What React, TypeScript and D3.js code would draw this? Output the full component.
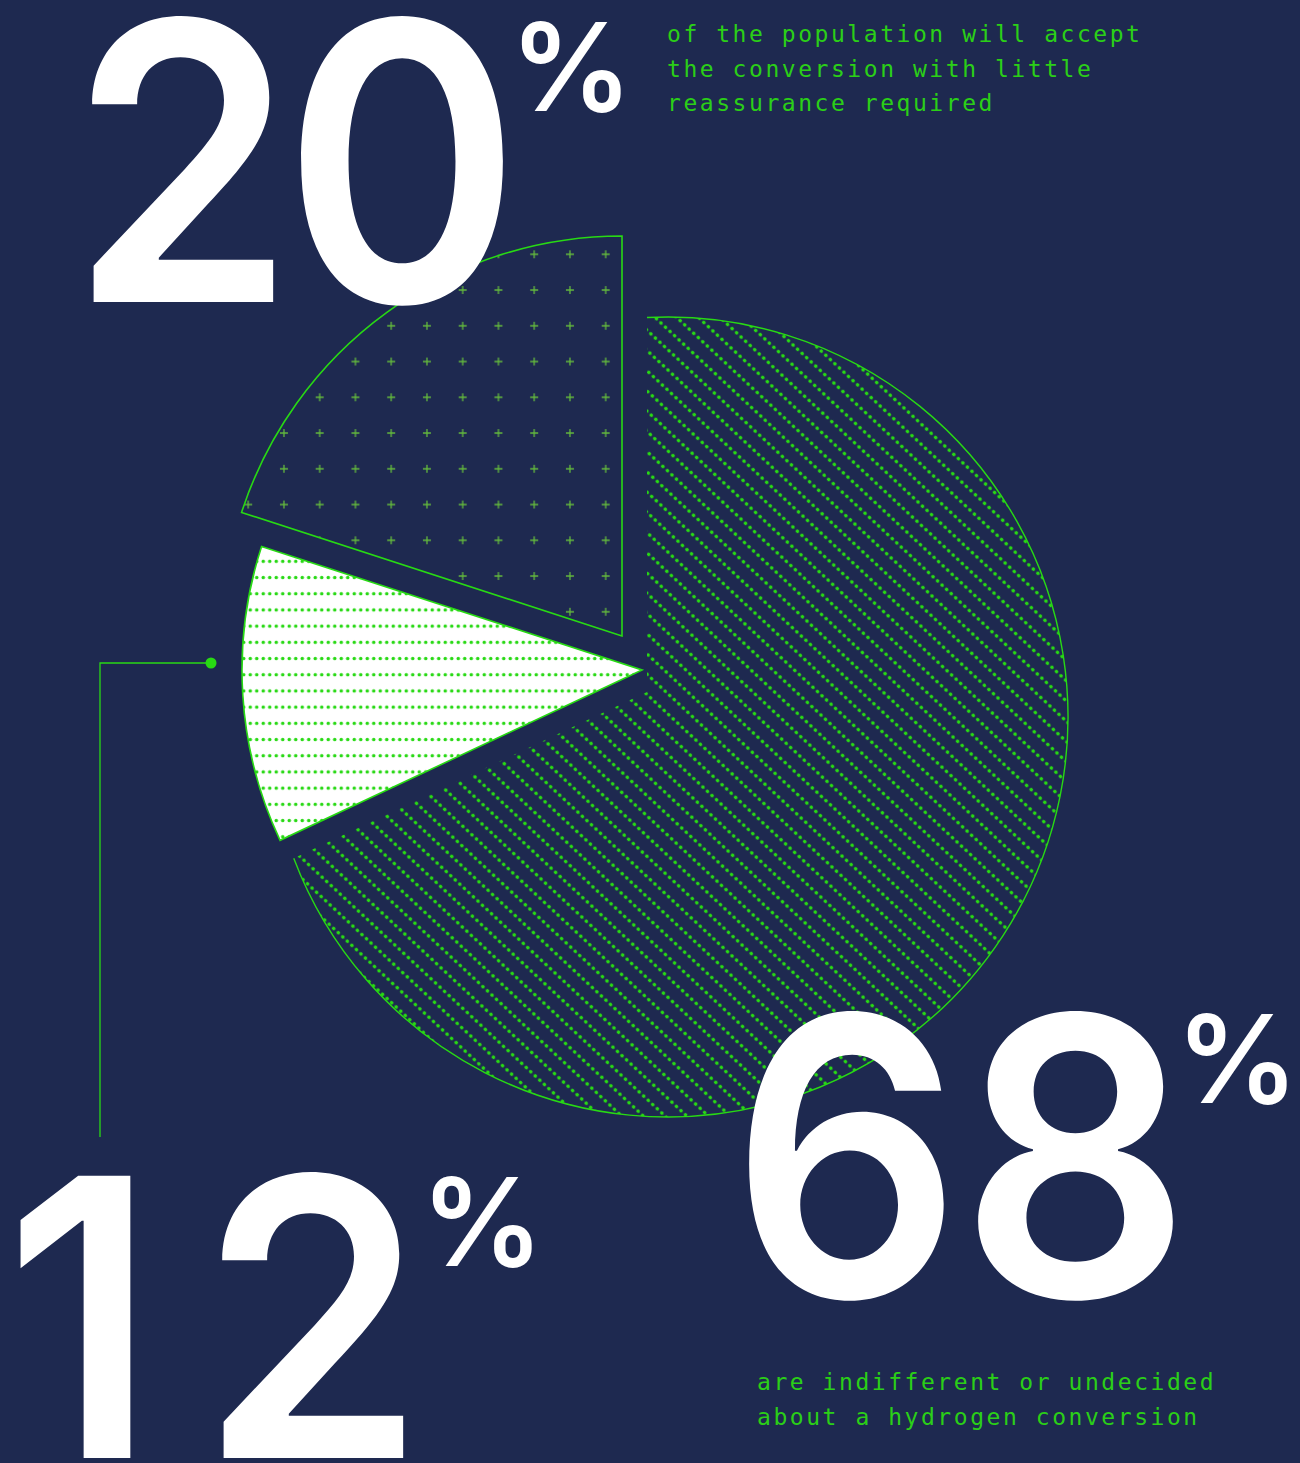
import React from "react";
import * as d3 from "d3";

// ---- data ----
const sliceNames = ["indifferent", "littleReassurance", "other"];
const sliceValues = [68, 12, 20]; // clockwise from 12 o'clock
const bigNumbers = ["68", "12", "20"];
const captionTop = ["of the population will accept", "the conversion with little", "reassurance required"];
const captionBottom = ["are indifferent or undecided", "about a hydrogen conversion"];

const W = 1300;
const H = 1463;
const BG = "#1e2950";
const GREEN = "#28d914";
const TEXT_GREEN = "#2bcf17";
const PLUS_GREEN = "#62b83c";
const R = 400;

// layout (apex of each exploded slice)
const apex: Record<string, [number, number]> = {
  indifferent: [647, 692],
  littleReassurance: [642, 670],
  other: [622, 636],
};
const bigArcCenter: [number, number] = [668, 717];

// layout for the big figures: x origin of each digit, baseline, percent position
const numberLayout = [
  { digitsX: [731, 960], baseline: 1297, pctX: 1176, pctY: 1103 },
  { digitsX: [4, 200], baseline: 1458, pctX: 421, pctY: 1266 },
  { digitsX: [70, 283], baseline: 302, pctX: 510, pctY: 111 },
];
const FS = 388;
const SX = 0.93;

const toStd = (theta: number) => theta - Math.PI / 2;

function slicePath(cx: number, cy: number, r: number, a0: number, a1: number) {
  const p = d3.path();
  p.moveTo(cx, cy);
  p.lineTo(cx + r * Math.cos(toStd(a0)), cy + r * Math.sin(toStd(a0)));
  p.arc(cx, cy, r, toStd(a0), toStd(a1), false);
  p.closePath();
  return p.toString();
}

function rayHit(P: [number, number], theta: number, C: [number, number], r: number): [number, number] {
  const d = [Math.sin(theta), -Math.cos(theta)];
  const pc = [P[0] - C[0], P[1] - C[1]];
  const b = d[0] * pc[0] + d[1] * pc[1];
  const c = pc[0] * pc[0] + pc[1] * pc[1] - r * r;
  const t = -b + Math.sqrt(b * b - c);
  return [P[0] + t * d[0], P[1] + t * d[1]];
}

export default function App() {
  const arcs = d3
    .pie<number>()
    .sort(null)
    .startAngle(0)
    .endAngle(2 * Math.PI)(sliceValues);

  // big slice: apex offset from arc centre
  const big = arcs[0];
  const P = apex[sliceNames[0]];
  const q0 = rayHit(P, big.startAngle, bigArcCenter, R);
  const q1 = rayHit(P, big.endAngle, bigArcCenter, R);
  const al0 = Math.atan2(q0[1] - bigArcCenter[1], q0[0] - bigArcCenter[0]);
  let al1 = Math.atan2(q1[1] - bigArcCenter[1], q1[0] - bigArcCenter[0]);
  if (al1 < al0) al1 += 2 * Math.PI;
  const bigFill = d3.path();
  bigFill.moveTo(P[0], P[1]);
  bigFill.lineTo(q0[0], q0[1]);
  bigFill.arc(bigArcCenter[0], bigArcCenter[1], R, al0, al1, false);
  bigFill.closePath();
  const bigStroke = d3.path();
  bigStroke.moveTo(q0[0], q0[1]);
  bigStroke.arc(bigArcCenter[0], bigArcCenter[1], R, al0, al1, false);

  const small = arcs[1];
  const sA = apex[sliceNames[1]];
  const smallD = slicePath(sA[0], sA[1], R, small.startAngle, small.endAngle);
  const mid = arcs[2];
  const mA = apex[sliceNames[2]];
  const midD = slicePath(mA[0], mA[1], R, mid.startAngle, mid.endAngle);

  const plusCell = 35.75;
  const mono = "'DejaVu Sans Mono', 'Liberation Mono', monospace";
  const sans = "Inter, 'Liberation Sans', Arial, sans-serif";

  return (
    <svg
      width={W}
      height={H}
      viewBox={`0 0 ${W} ${H}`}
      style={{ position: "absolute", left: 0, top: 0, display: "block" }}
    >
      <defs>
        <pattern id="diag" patternUnits="userSpaceOnUse" width={6.2} height={14.8} patternTransform="rotate(43)">
          <circle cx={3.1} cy={7.4} r={1.85} fill={GREEN} />
        </pattern>
        <pattern id="hlines" patternUnits="userSpaceOnUse" x={0} y={504.6} width={6.5} height={16.2}>
          <rect width={6.5} height={16.2} fill="#ffffff" />
          <circle cx={3.25} cy={8.1} r={1.75} fill={GREEN} />
        </pattern>
        <pattern
          id="plus"
          patternUnits="userSpaceOnUse"
          x={605.7 - plusCell / 2}
          y={254.3 - plusCell / 2}
          width={plusCell}
          height={plusCell}
        >
          <path
            d={`M${plusCell / 2 - 4},${plusCell / 2}h8M${plusCell / 2},${plusCell / 2 - 4}v8`}
            stroke={PLUS_GREEN}
            strokeWidth={1.3}
          />
        </pattern>
      </defs>
      <rect width={W} height={H} fill={BG} />

      {/* big slice */}
      <path d={bigFill.toString()} fill="url(#diag)" />
      <path d={bigStroke.toString()} fill="none" stroke={GREEN} strokeWidth={1.4} />

      {/* 20% slice */}
      <path d={midD} fill="url(#plus)" stroke={GREEN} strokeWidth={1.6} strokeLinejoin="miter" />
      {/* 12% slice */}
      <path d={smallD} fill="url(#hlines)" stroke={GREEN} strokeWidth={1.6} />

      {/* callout */}
      <polyline points="211,663 100,663 100,1137" fill="none" stroke={GREEN} strokeWidth={1.3} />
      <circle cx={211} cy={663} r={5.5} fill={GREEN} />

      {/* big numbers */}
      <g fill="#ffffff" fontFamily={sans} fontWeight={600}>
        {bigNumbers.map((num, i) => {
          const L = numberLayout[i];
          return (
            <g key={num}>
              {num.split("").map((ch, j) => (
                <text
                  key={j}
                  transform={`translate(${L.digitsX[j]},${L.baseline}) scale(${SX},1)`}
                  fontSize={FS}
                >
                  {ch}
                </text>
              ))}
              <text x={L.pctX} y={L.pctY} fontSize={122}>%</text>
            </g>
          );
        })}
      </g>

      {/* captions */}
      <g fill={TEXT_GREEN} fontFamily={mono} fontSize={23} letterSpacing={2.55}>
        {captionTop.map((t, i) => (
          <text key={t} x={667} y={42 + i * 34.6}>{t}</text>
        ))}
        {captionBottom.map((t, i) => (
          <text key={t} x={757} y={1390 + i * 34.6}>{t}</text>
        ))}
      </g>
    </svg>
  );
}
